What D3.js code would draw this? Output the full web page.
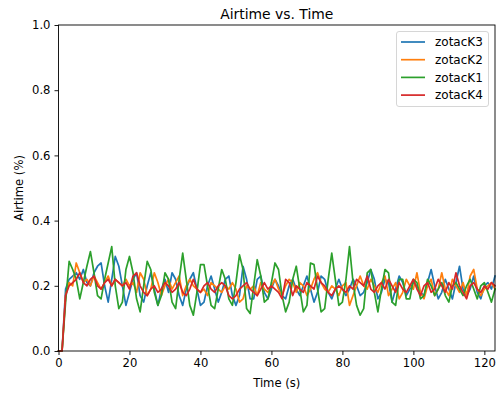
<!DOCTYPE html>
<html><head><meta charset="utf-8">
<script src="https://cdn.jsdelivr.net/npm/d3@7"></script>
<style>body{margin:0;background:#fff}svg{display:block;font-family:"DejaVu Sans",sans-serif}</style>
</head><body><svg id="c" width="500" height="393"></svg>
<script>
const seriesNames = ["zotacK3","zotacK2","zotacK1","zotacK4"];
const seriesColors = ["#1f77b4","#ff7f0e","#2ca02c","#d62728"];
const zotacK3 = [0,0,0.19,0.22,0.23,0.24,0.22,0.25,0.21,0.20,
0.24,0.26,0.27,0.20,0.15,0.22,0.29,0.26,0.20,0.14,
0.18,0.22,0.24,0.17,0.15,0.20,0.24,0.19,0.14,0.19,
0.22,0.18,0.24,0.22,0.17,0.14,0.19,0.22,0.24,0.19,
0.14,0.15,0.20,0.23,0.19,0.15,0.18,0.22,0.23,0.17,
0.14,0.17,0.26,0.22,0.16,0.16,0.22,0.23,0.18,0.16,
0.19,0.22,0.20,0.17,0.16,0.20,0.22,0.19,0.17,0.20,
0.23,0.19,0.15,0.18,0.23,0.22,0.18,0.16,0.19,0.22,
0.19,0.17,0.19,0.22,0.20,0.17,0.18,0.21,0.25,0.22,
0.16,0.18,0.22,0.21,0.15,0.19,0.23,0.21,0.17,0.19,
0.21,0.20,0.18,0.17,0.21,0.25,0.20,0.16,0.18,0.22,
0.19,0.16,0.21,0.26,0.19,0.17,0.19,0.23,0.18,0.16,
0.20,0.21,0.19,0.23];
const zotacK2 = [0,0,0.17,0.21,0.20,0.27,0.24,0.21,0.22,0.20,
0.23,0.21,0.19,0.21,0.23,0.20,0.22,0.21,0.20,0.22,
0.20,0.21,0.18,0.24,0.22,0.17,0.19,0.24,0.21,0.17,
0.20,0.22,0.19,0.21,0.23,0.17,0.20,0.22,0.20,0.19,
0.18,0.19,0.17,0.21,0.20,0.19,0.18,0.20,0.19,0.21,
0.19,0.15,0.16,0.20,0.19,0.20,0.17,0.21,0.19,0.18,
0.20,0.22,0.19,0.17,0.20,0.22,0.21,0.18,0.21,0.20,
0.17,0.19,0.22,0.24,0.21,0.19,0.18,0.20,0.19,0.17,
0.20,0.21,0.14,0.17,0.20,0.23,0.20,0.19,0.22,0.20,
0.18,0.21,0.23,0.17,0.19,0.21,0.16,0.18,0.22,0.20,
0.19,0.24,0.18,0.16,0.20,0.22,0.17,0.19,0.24,0.19,
0.17,0.22,0.20,0.18,0.21,0.17,0.23,0.25,0.19,0.17,
0.19,0.20,0.21,0.19];
const zotacK1 = [0,0,0.15,0.275,0.25,0.22,0.16,0.21,0.26,0.305,
0.24,0.17,0.16,0.22,0.27,0.32,0.20,0.13,0.15,0.25,
0.29,0.24,0.16,0.12,0.20,0.275,0.25,0.18,0.14,0.17,
0.24,0.22,0.15,0.13,0.22,0.30,0.22,0.14,0.11,0.18,
0.265,0.265,0.20,0.14,0.13,0.19,0.25,0.22,0.16,0.14,
0.21,0.295,0.25,0.13,0.115,0.20,0.28,0.23,0.15,0.16,
0.21,0.27,0.25,0.17,0.12,0.15,0.22,0.26,0.19,0.12,
0.14,0.27,0.265,0.19,0.12,0.13,0.22,0.30,0.22,0.14,
0.15,0.22,0.32,0.21,0.14,0.11,0.13,0.24,0.25,0.18,
0.12,0.19,0.25,0.24,0.15,0.14,0.22,0.22,0.16,0.16,
0.22,0.21,0.16,0.17,0.22,0.20,0.17,0.19,0.21,0.17,
0.15,0.20,0.21,0.19,0.17,0.20,0.22,0.19,0.16,0.20,
0.21,0.18,0.15,0.19];
const zotacK4 = [0,0,0.17,0.20,0.21,0.22,0.24,0.21,0.20,0.22,
0.23,0.20,0.19,0.21,0.22,0.20,0.22,0.21,0.20,0.21,
0.19,0.23,0.24,0.20,0.18,0.17,0.19,0.20,0.18,0.19,
0.21,0.20,0.18,0.19,0.21,0.18,0.17,0.19,0.22,0.19,
0.18,0.20,0.21,0.19,0.18,0.20,0.21,0.20,0.17,0.16,
0.17,0.19,0.20,0.21,0.19,0.18,0.17,0.19,0.21,0.19,
0.20,0.19,0.18,0.16,0.22,0.21,0.17,0.20,0.19,0.18,
0.21,0.20,0.19,0.23,0.21,0.20,0.18,0.17,0.19,0.20,
0.19,0.18,0.20,0.19,0.22,0.21,0.20,0.23,0.19,0.18,
0.20,0.21,0.19,0.22,0.20,0.18,0.21,0.19,0.18,0.20,
0.22,0.19,0.17,0.20,0.21,0.18,0.19,0.22,0.20,0.18,
0.21,0.19,0.24,0.20,0.18,0.16,0.20,0.21,0.19,0.18,
0.20,0.19,0.21,0.20];
const seriesValues = [zotacK3, zotacK2, zotacK1, zotacK4];
const xTicks = [0,20,40,60,80,100,120];
const yTicks = [0,0.2,0.4,0.6,0.8,1.0];

const svg = d3.select("#c");
const L = 58.5, R = 495, T = 25, B = 351;
const FS = 11.6;
const x = d3.scaleLinear().domain([0, 123]).range([L, R]);
const y = d3.scaleLinear().domain([0, 1]).range([B, T]);

const line = d3.line().x((d,i)=>x(i)).y(d=>y(d));
const plot = svg.append("g");
seriesValues.forEach((s,k)=>{
  plot.append("path").datum(s).attr("d", line).attr("fill","none")
    .attr("stroke", seriesColors[k]).attr("stroke-width",1.7)
    .attr("stroke-linejoin","round").attr("stroke-linecap","square");
});

const xa = svg.append("g").attr("transform",`translate(0,${B})`)
  .call(d3.axisBottom(x).tickValues(xTicks).tickSize(4).tickPadding(4).tickFormat(d3.format("d")));
const ya = svg.append("g").attr("transform",`translate(${L},0)`)
  .call(d3.axisLeft(y).tickValues(yTicks).tickSize(4).tickPadding(4).tickFormat(d3.format(".1f")));
[xa,ya].forEach(a=>{
  a.select(".domain").remove();
  a.selectAll("text").attr("font-size",FS).attr("fill","#000").attr("font-family","DejaVu Sans");
  a.selectAll("line").attr("stroke","#000").attr("stroke-width",0.9);
});
svg.append("rect").attr("x",L).attr("y",T).attr("width",R-L).attr("height",B-T)
  .attr("fill","none").attr("stroke","#000").attr("stroke-width",0.9);

svg.append("text").attr("x",(L+R)/2).attr("y",19).attr("text-anchor","middle")
  .attr("font-size",13.9).text("Airtime vs. Time");
svg.append("text").attr("x",(L+R)/2).attr("y",387).attr("text-anchor","middle")
  .attr("font-size",FS).text("Time (s)");
svg.append("text").attr("transform",`translate(23,${(T+B)/2}) rotate(-90)`).attr("text-anchor","middle")
  .attr("font-size",FS).text("Airtime (%)");

const lg = svg.append("g");
lg.append("rect").attr("x",396.5).attr("y",31.5).attr("width",92).attr("height",75).attr("rx",2.5)
  .attr("fill","#fff").attr("fill-opacity",0.8).attr("stroke","#ccc").attr("stroke-width",0.8);
seriesNames.forEach((n,k)=>{
  const yy = 42 + k*17.7;
  lg.append("line").attr("x1",401).attr("x2",425).attr("y1",yy).attr("y2",yy)
    .attr("stroke",seriesColors[k]).attr("stroke-width",1.7);
  lg.append("text").attr("x",435).attr("y",yy+4.2).attr("font-size",FS+0.4).text(n);
});
</script></body></html>
